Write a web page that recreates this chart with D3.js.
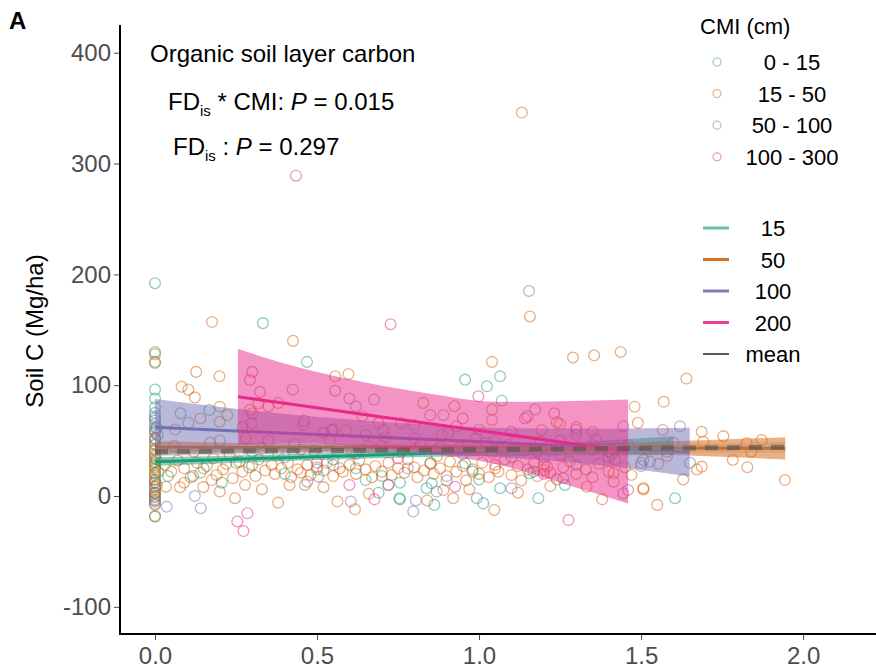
<!DOCTYPE html>
<html>
<head>
<meta charset="utf-8">
<script src="https://cdn.jsdelivr.net/npm/d3@7"></script>
<style>
  body { margin: 0; background: #fff; }
  svg { font-family: Arial, "Liberation Sans", sans-serif; }
</style>
</head>
<body>
<div id="chart"></div>
<script>
const xTicks = [0, 0.5, 1.0, 1.5, 2.0];
const yTicks = [-100, 0, 100, 200, 300, 400];

const pointGroups = ["0 - 15", "15 - 50", "50 - 100", "100 - 300"];
const lineGroups = ["15", "50", "100", "200"];
const groupColors = ["#1B9E77", "#D95F02", "#7570B3", "#E7298A"];

// points: [FDis, soil C]
const pts0_15 = [
  [0,192],[0,130],[0,121],[0,96],[0,88],[0,80],[0,75],[0,70],[0,65],[0,58],[0,52],[0,47],[0,42],[0,36],[0,30],[0,26],[0,20],[0,14],[0,8],[0,3],[0,-1],[0,-5],[0,-18.6],
  [0.005,62],[0.008,55],[0.004,33],[0.01,22],[0.006,10],
  [0.04,18],[0.079,74.6],[0.168,77.6],[0.118,18],[0.206,12],[0.333,156],[0.469,121],[0.69,3],[0.754,-2],[0.957,105],[1.065,108],[1.024,99],[1.07,86],
  [1.183,-2],[1.013,-6.6],[0.862,-8],[0.756,-3],[0.838,7],[0.854,11.5],[1.065,7],[1.265,10],[1.605,-2],
  [0.62,25],[0.65,14.4],[0.957,29.5],[0.98,22],[1.168,22],[0.756,12],[1.157,20.5],
  [0.3,28],[0.5,24],[0.55,33],[0.85,30],[1.1,35],[1.3,28],[1.4,40],[0.25,30],[0.15,25],[0.4,20],[0.7,18],[1.0,15]
];
const pts15_50 = [
  [0,128],[0,120],[0,60],[0,52],[0,46],[0,41],[0,38],[0,34],[0,31],[0,28],[0,24],[0,21],[0,18],[0,15],[0,12],[0,9],[0,6],[0,3],[0,0],[0,-3],[0,-8],[0,-18],
  [0.127,112],[0.199,108],[0.082,98.6],[0.103,96],[0.123,89],[0.2,80.6],[0.2,67],[0.223,73],[0.062,60],[0.176,157],[0.034,8.4],[0.077,8],[0.149,8],[0.175,14.4],
  [0.247,-2],[0.278,10],[0.319,83.7],[0.35,81],[0.293,77.6],[0.38,84],[0.426,140],[0.556,108],[0.597,110],[0.545,59.6],[0.59,59.6],[0.705,59.6],[0.415,10],
  [0.563,-5],[0.617,-12],[0.828,84],[0.924,81],[1.04,78],[1.04,68.6],[1.04,121],[1.132,346],[1.157,162],[1.29,125],[1.355,127],[1.437,130],[1.48,80.6],[1.49,66],
  [1.047,-12.6],[0.89,5.4],[0.92,-2],[1.332,8.4],[1.415,20.5],[1.415,13],[1.507,7],[1.21,26.5],[1.2,23.5],[1.64,106],[1.57,85],[1.567,59.6],[1.687,58],[1.754,54],
  [1.872,50.5],[1.826,47.5],[1.84,40],[1.783,32.5],[1.828,26],[1.687,26.5],[1.672,24],[1.63,15],[1.944,14.4],[1.507,6],[1.553,29],[1.692,49],
  [0.885,55],[0.905,56.6],[1.3,59.6],[1.193,59.6],[1.25,65],[1.24,66.6],[0.76,65.6],[0.8,64],
  [0.03,28],[0.05,22],[0.07,32],[0.09,25],[0.11,17],[0.13,30],[0.14,21],[0.16,27],[0.18,34],[0.19,19],[0.21,24],[0.22,29],[0.24,16],[0.26,31],[0.27,22],
  [0.29,26],[0.31,18],[0.32,33],[0.34,23],[0.36,28],[0.37,20],[0.39,25],[0.41,30],[0.42,17],[0.44,24],[0.45,21],[0.47,28],[0.48,19],[0.5,26],[0.52,23],
  [0.53,30],[0.55,18],[0.57,25],[0.58,22],[0.6,28],[0.62,20],[0.63,32],[0.65,24],[0.67,17],[0.68,27],[0.7,22],[0.72,30],[0.73,19],[0.75,25],[0.77,21],
  [0.78,33],[0.8,26],[0.81,17],[0.83,23],[0.85,29],[0.86,20],[0.88,25],[0.9,18],[0.91,31],[0.93,22],[0.95,27],[0.96,14],[0.98,24],[1.0,20],[1.01,30],
  [1.03,17],[1.05,25],[1.06,22],[1.08,33],[1.1,19],[1.12,27],[1.13,14],[1.15,24],[1.17,30],[1.18,18],[1.2,28],[1.22,21],[1.24,15],[1.26,26],[1.28,31],
  [1.3,20],[1.33,24],[1.35,17],[1.37,29],[1.4,22],[1.42,33],[1.45,26],[1.47,19],[1.5,30],
  [0.06,45],[0.12,40],[0.17,48],[0.23,38],[0.28,52],[0.33,43],[0.38,37],[0.43,47],[0.49,41],[0.54,50],[0.61,39],[0.66,45],[0.71,53],[0.76,40],[0.82,47],
  [0.87,36],[0.94,44],[0.99,52],[1.04,39],[1.09,46],[1.14,41],[1.19,49],[1.25,37],[1.31,44],[1.36,51],[1.41,38],[1.46,46],[1.52,42],[1.58,36],[1.6,48],
  [0.09,12],[0.2,4],[0.33,6],[0.38,-6],[0.52,8],[0.66,2],[0.72,10],[0.84,-4],[0.97,6],[1.12,3],[1.22,9],[1.38,-3],[1.55,-8],[0.47,13],
  [0.14,70],[0.27,62],[0.46,68],[0.64,72],[0.93,63],[1.15,72],[1.35,58],[0.52,57]
];
const pts50_100 = [
  [0,72],[0,68],[0,62],[0,57],[0,50],[0,12],[0,2],[0,-4],[0,-7],
  [0.103,66],[0.123,0],[0.036,-9.6],[0.141,-11],[0.458,64],[0.425,96],[0.556,95],[0.6,88],[0.62,81],[0.463,10],[0.504,17.5],[0.604,-5],[0.849,73],[0.89,73],
  [1.173,78],[1.154,185],[0.993,-2],[0.797,-14],[0.805,-4],[0.869,4],[1.1,7],[1.26,16],[1.445,63],[1.445,2.4],[1.62,63],[1.651,30],[1.528,31],[1.507,32.5],
  [0.3,40],[0.4,35],[0.55,28],[0.7,45],[0.78,25],[0.95,38],[1.05,50],[1.2,35],[1.35,42],[1.5,27],[1.58,40],[0.2,50],[0.65,55],[1.0,60],[1.3,55],[0.9,14],[0.72,10],
  [0.676,87]
];
const pts100_300 = [
  [0.435,289],[0.727,155],[0.293,104.7],[0.3,112],[0.324,94],[0.298,65.6],[0.69,65.6],[0.254,-23],[0.285,-15.6],[0.273,-31.6],[0.6,10],[0.677,-3],
  [0.998,90],[1.232,74.6],[1.142,70],[0.926,8.4],[1.276,-21.7],[1.46,5.4],[0.3,74.6],
  [0.35,50],[0.45,42],[0.55,60],[0.62,38],[0.8,52],[0.88,44],[1.02,48],[1.1,58],[1.18,40],[1.25,50],[1.35,46],[1.4,35],[0.5,30],[0.75,34],[1.05,28],
  [0.95,70],[1.3,62],[1.2,20]
];

// fitted lines with confidence band: [FDis, fit, lower, upper]
const fit15 = [[0,31,27,35],[0.4,34.6,31.5,37.7],[0.8,38.2,35,41.4],[1.2,41.8,36.5,47],[1.6,45.4,37,54]];
const fit50 = [[0,44,38.5,49.5],[0.5,43.7,40.5,47],[1.0,43.5,40.5,46.5],[1.5,43.3,38,48.6],[1.945,43,33,53]];
const fit100 = [[0,62,36.5,87.5],[0.25,58.75,38.75,78.75],[0.5,55.5,39.5,71.5],[0.8,51.6,38.1,65.1],[1.1,47.7,34.2,61.2],[1.4,43.8,26.8,60.8],[1.65,39.5,17.5,61.5]];
const fit200 = [[0.256,89.6,46.6,132.6],[0.45,81.6,47.6,115.6],[0.65,73.4,44.4,102.4],[0.85,65.2,38.2,92.2],[1.05,57,29,85],[1.25,48.8,12,85.6],[1.46,40.2,-6.8,87.2]];
const fitMean = [[0,40,36,44],[0.5,41,38.5,43.5],[1.0,42,39.5,44.5],[1.5,43,39.5,46.5],[1.945,44,39,49]];

const width = 876, height = 672;
const svg = d3.select("#chart").append("svg")
  .attr("width", width).attr("height", height);

const x = d3.scaleLinear().domain([-0.108, 2.225]).range([120, 876]);
const y = d3.scaleLinear().domain([-124.5, 425]).range([634, 25]);

const allPts = [pts0_15, pts15_50, pts50_100, pts100_300];

// points
allPts.forEach((pts, i) => {
  svg.append("g").selectAll("circle")
    .data(pts)
    .join("circle")
    .attr("cx", d => x(d[0]))
    .attr("cy", d => y(d[1]))
    .attr("r", 5.4)
    .attr("fill", "none")
    .attr("stroke", groupColors[i])
    .attr("stroke-opacity", 0.5)
    .attr("stroke-width", 1.3);
});

const area = d3.area()
  .x(d => x(d[0])).y0(d => y(d[2])).y1(d => y(d[3]))
  .curve(d3.curveMonotoneX);
const line = d3.line().x(d => x(d[0])).y(d => y(d[1]));

[fit15, fit50, fit100, fit200].forEach((f, i) => {
  svg.append("path").attr("d", area(f))
    .attr("fill", groupColors[i]).attr("fill-opacity", 0.5);
  svg.append("path").attr("d", line(f))
    .attr("fill", "none").attr("stroke", groupColors[i]).attr("stroke-width", 3);
});

// mean
svg.append("path").attr("d", area(fitMean))
  .attr("fill", "#9a8f85").attr("fill-opacity", 0.3);
svg.append("path").attr("d", line(fitMean))
  .attr("fill", "none").attr("stroke", "#5a5047").attr("stroke-opacity", 0.6)
  .attr("stroke-width", 5).attr("stroke-dasharray", "13,9");

// axes
const yAxis = svg.append("g").attr("transform", "translate(120,0)")
  .call(d3.axisLeft(y).tickValues(yTicks).tickFormat(d => String(d)).tickSize(6).tickPadding(3));
const xAxis = svg.append("g").attr("transform", "translate(0,634)")
  .call(d3.axisBottom(x).tickValues(xTicks).tickFormat(d3.format(".1f")).tickSize(6).tickPadding(4));
[yAxis, xAxis].forEach(a => {
  a.select(".domain").remove();
  a.selectAll(".tick line").attr("stroke", "#4d4d4d");
  a.selectAll(".tick text").attr("fill", "#4d4d4d").attr("font-size", 24)
    .attr("font-family", "Arial, 'Liberation Sans', sans-serif");
});
xAxis.selectAll(".tick text").attr("dy", "0.85em");
svg.append("line").attr("x1", 120).attr("x2", 120).attr("y1", 25).attr("y2", 635)
  .attr("stroke", "#000").attr("stroke-width", 2);
svg.append("line").attr("x1", 119).attr("x2", 876).attr("y1", 634).attr("y2", 634)
  .attr("stroke", "#000").attr("stroke-width", 2);

svg.append("text").attr("transform", "translate(43,331) rotate(-90)")
  .attr("text-anchor", "middle").attr("font-size", 24).text("Soil C (Mg/ha)");

svg.append("text").attr("x", 9).attr("y", 29).attr("font-size", 24)
  .attr("font-weight", "bold").text("A");

// annotations
svg.append("text").attr("x", 150).attr("y", 62).attr("font-size", 24)
  .text("Organic soil layer carbon");

function pLabel(xp, yp, mid, pval) {
  const t = svg.append("text").attr("x", xp).attr("y", yp).attr("font-size", 24);
  t.append("tspan").text("FD");
  t.append("tspan").attr("font-size", 15).attr("dy", 6).text("is");
  t.append("tspan").attr("dy", -6).text(mid);
  t.append("tspan").attr("font-style", "italic").text("P");
  t.append("tspan").text(" = " + pval);
}
pLabel(168, 110, " * CMI: ", "0.015");
pLabel(173, 155, " : ", "0.297");

// legend: points
const leg = svg.append("g");
leg.append("text").attr("x", 700).attr("y", 34).attr("font-size", 22).text("CMI (cm)");
pointGroups.forEach((g, i) => {
  const cy = 62 + i * 31.6;
  leg.append("circle").attr("cx", 717).attr("cy", cy).attr("r", 4)
    .attr("fill", "none").attr("stroke", groupColors[i]).attr("stroke-opacity", 0.5)
    .attr("stroke-width", 1.2);
  leg.append("text").attr("x", 792).attr("y", cy + 8).attr("text-anchor", "middle")
    .attr("font-size", 22).text(g);
});

// legend: lines
const lineKeys = lineGroups.concat(["mean"]);
lineKeys.forEach((g, i) => {
  const cy = 228 + i * 31.5;
  leg.append("line").attr("x1", 703).attr("x2", 729).attr("y1", cy).attr("y2", cy)
    .attr("stroke", i < 4 ? groupColors[i] : "#000")
    .attr("stroke-opacity", i === 0 ? 0.65 : (i < 4 ? 0.9 : 1))
    .attr("stroke-width", i < 4 ? 3 : 1.3);
  leg.append("text").attr("x", 773).attr("y", cy + 8).attr("text-anchor", "middle")
    .attr("font-size", 22).text(g);
});
</script>
</body>
</html>
